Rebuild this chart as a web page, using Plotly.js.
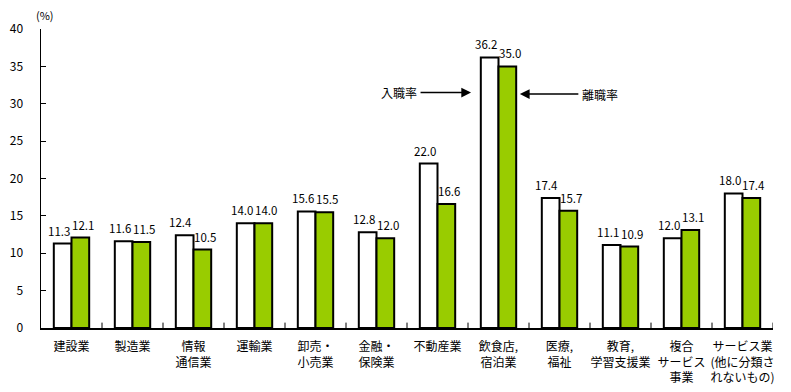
<!DOCTYPE html>
<html><head><meta charset="utf-8">
<script src="https://cdn.plot.ly/plotly-3.0.1.min.js"></script>
<style>body{margin:0;background:#fff}#chart{width:791px;height:392px}</style>
</head><body><div id="chart"></div>
<script>
const categories = ["建設業","製造業","情報<br>通信業","運輸業","卸売・<br>小売業","金融・<br>保険業","不動産業","飲食店,<br>宿泊業","医療,<br>福祉","教育,<br>学習支援業","複合<br>サービス<br>事業","サービス業<br>(他に分類さ<br>れないもの)"];
const entryRate = [11.3,11.6,12.4,14.0,15.6,12.8,22.0,36.2,17.4,11.1,12.0,18.0];
const exitRate  = [12.1,11.5,10.5,14.0,15.5,12.0,16.6,35.0,15.7,10.9,13.1,17.4];
const yTicks = [0,5,10,15,20,25,30,35,40];

const font = "'Noto Sans CJK JP', sans-serif";
const idx = categories.map((c,i)=>i);

const traces = [
  {type:'bar', x: idx, y: entryRate, name:'入職率',
   marker:{color:'#ffffff', line:{color:'#000', width:2}}},
  {type:'bar', x: idx, y: exitRate, name:'離職率',
   marker:{color:'#99cc00', line:{color:'#000', width:2}}}
];

const valueLabels = [];
idx.forEach(i=>{
  valueLabels.push({xref:'x', yref:'y', x:i, y:entryRate[i], text:entryRate[i].toFixed(1),
    showarrow:false, xanchor:'center', yanchor:'bottom', xshift:-13, yshift:3,
    font:{family:font, size:11.5, color:'#000'}});
  valueLabels.push({xref:'x', yref:'y', x:i, y:exitRate[i], text:exitRate[i].toFixed(1),
    showarrow:false, xanchor:'center', yanchor:'bottom', xshift:11, yshift:3,
    font:{family:font, size:11.5, color:'#000'}});
});

const layout = {
  width:791, height:392,
  margin:{l:41, r:18, t:29, b:64},
  paper_bgcolor:'#fff', plot_bgcolor:'#fff',
  showlegend:false,
  barmode:'group', bargap:0.42, bargroupgap:0,
  font:{family:font, size:12, color:'#000'},
  xaxis:{
    tickmode:'array', tickvals: idx, ticktext: categories,
    range:[-0.5, 11.5], showline:true, linecolor:'#000', linewidth:1.5,
    ticks:'', showgrid:false, zeroline:false,
    tickfont:{family:font, size:12, color:'#000'}, ticklabelstandoff:7
  },
  yaxis:{
    range:[0,40], tickmode:'array', tickvals:yTicks,
    showline:true, linecolor:'#000', linewidth:1.5,
    ticks:'inside', ticklen:5, tickcolor:'#000',
    showgrid:false, zeroline:false,
    tickfont:{family:font, size:12, color:'#000'}, ticklabelstandoff:14
  },
  shapes: idx.slice(1).concat([12]).map(i=>({
    type:'line', xref:'x', yref:'paper', x0:i-0.5, x1:i-0.5, y0:0, y1:0.018,
    line:{color:'#000', width:1}
  })),
  annotations:[
    {xref:'paper', yref:'paper', x:-0.01, y:1.0, yshift:14, text:'(%)', showarrow:false,
     xanchor:'left', yanchor:'middle', font:{family:font, size:11}},
    {xref:'x', yref:'y', x:6.55, y:31.5, ax:-72, ay:0, text:'入職率', showarrow:true,
     arrowhead:2, arrowsize:1.3, arrowwidth:1.5, arrowcolor:'#000', standoff:0, startstandoff:2,
     font:{family:font, size:12}},
    {xref:'x', yref:'y', x:7.35, y:31.3, ax:80, ay:0, text:'離職率', showarrow:true,
     arrowhead:2, arrowsize:1.3, arrowwidth:1.5, arrowcolor:'#000', standoff:0, startstandoff:2,
     font:{family:font, size:12}}
  ].concat(valueLabels)
};
Plotly.newPlot('chart', traces, layout, {displayModeBar:false, staticPlot:true});
</script></body></html>
